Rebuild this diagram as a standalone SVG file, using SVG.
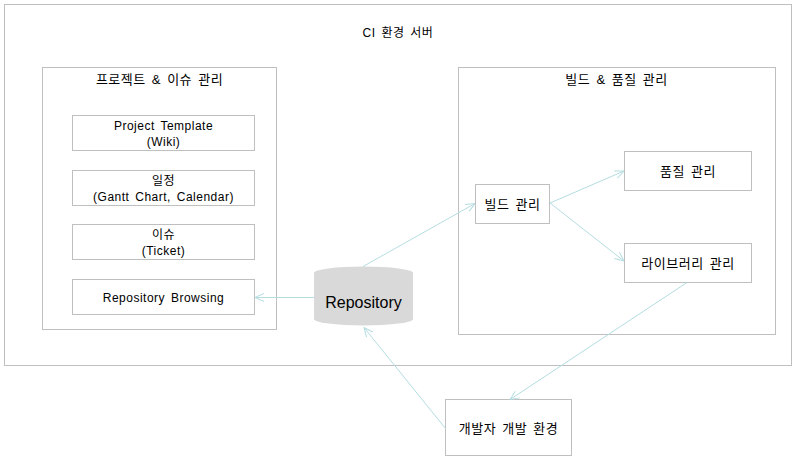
<svg xmlns="http://www.w3.org/2000/svg" width="796" height="462" viewBox="0 0 796 462">
<style>
.box{fill:#fff;stroke:#bfbfbf;stroke-width:1}
.t{font-family:"Liberation Sans","Noto Sans CJK KR",sans-serif;font-size:12px;fill:#000;text-anchor:middle;letter-spacing:0.5px;word-spacing:2px}
.k{font-size:13px}
.c{fill:none;stroke:#b5dde1;stroke-width:1}
</style>
<defs>
<marker id="a" viewBox="0 0 10 10" refX="10" refY="5" markerWidth="10" markerHeight="10" markerUnits="userSpaceOnUse" orient="auto">
<path d="M1,1 L10,5 L1,9" fill="none" stroke="#b5dde1" stroke-width="1"/>
</marker>
</defs>
<rect width="796" height="462" fill="#fff"/>
<g id="ci-server">
<rect class="box" x="4.5" y="4.5" width="787" height="361"/>
<text class="t" x="398" y="37">CI 환경 서버</text>
</g>
<g id="project-group">
<rect class="box" x="42.5" y="67.5" width="234" height="262"/>
<text class="t k" x="159.5" y="83.5">프로젝트 &amp; 이슈 관리</text>
</g>
<g id="build-group">
<rect class="box" x="458.5" y="67.5" width="317" height="267"/>
<text class="t k" x="616.5" y="83.5">빌드 &amp; 품질 관리</text>
</g>
<g id="project-template">
<rect class="box" x="72.5" y="115.5" width="182" height="35"/>
<text class="t" x="163.5" y="130">Project Template</text>
<text class="t" x="163.5" y="145.5">(Wiki)</text>
</g>
<g id="schedule">
<rect class="box" x="72.5" y="170.5" width="182" height="35"/>
<text class="t" x="163.5" y="185">일정</text>
<text class="t" x="163.5" y="200.5">(Gantt Chart, Calendar)</text>
</g>
<g id="issue">
<rect class="box" x="72.5" y="224.5" width="182" height="35"/>
<text class="t" x="163.5" y="239">이슈</text>
<text class="t" x="163.5" y="254.5">(Ticket)</text>
</g>
<g id="repo-browsing">
<rect class="box" x="72.5" y="279.5" width="182" height="35"/>
<text class="t" x="163.5" y="301.5">Repository Browsing</text>
</g>
<g id="build">
<rect class="box" x="475.5" y="184.5" width="74" height="39"/>
<text class="t k" x="512.5" y="209">빌드 관리</text>
</g>
<g id="quality">
<rect class="box" x="624.5" y="151.5" width="127" height="39"/>
<text class="t k" x="688" y="176">품질 관리</text>
</g>
<g id="library">
<rect class="box" x="624.5" y="243.5" width="127" height="39"/>
<text class="t k" x="688" y="268">라이브러리 관리</text>
</g>
<g id="dev-env">
<rect class="box" x="445.5" y="399.5" width="126" height="56"/>
<text class="t k" x="508.5" y="432.5">개발자 개발 환경</text>
</g>
<g id="repository">
<path d="M314,273 A49.5,6.5 0 0 1 413,273 L413,319 A49.5,6.5 0 0 1 314,319 Z" fill="#d9d9d9"/>
<text x="363.5" y="308" font-family="Liberation Sans,Arial,sans-serif" font-size="16" fill="#000" text-anchor="middle">Repository</text>
</g>
<g id="connectors">
<line class="c" x1="314" y1="297.5" x2="255" y2="297.5" marker-end="url(#a)"/>
<line class="c" x1="363" y1="266.5" x2="475" y2="203.5" marker-end="url(#a)"/>
<line class="c" x1="550" y1="203" x2="624" y2="171" marker-end="url(#a)"/>
<line class="c" x1="550" y1="203" x2="624" y2="261" marker-end="url(#a)"/>
<line class="c" x1="687" y1="282.5" x2="510" y2="399.5" marker-end="url(#a)"/>
<line class="c" x1="445.5" y1="428.5" x2="364" y2="327.5" marker-end="url(#a)"/>
</g>
</svg>
